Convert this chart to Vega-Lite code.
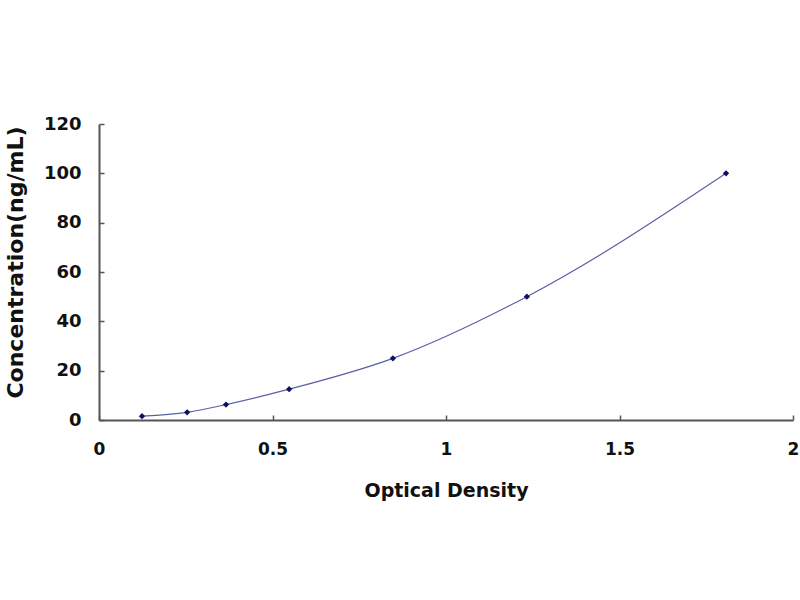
{
  "$schema": "https://vega.github.io/schema/vega-lite/v6.json",
  "autosize": {"type": "none"},
  "padding": {"left": 99, "top": 124, "right": 7, "bottom": 180},
  "width": 694,
  "height": 296,
  "background": "white",
  "data": {
    "values": [
      {"od": 0.124, "conc": 1.56},
      {"od": 0.254, "conc": 3.12},
      {"od": 0.366, "conc": 6.25},
      {"od": 0.548, "conc": 12.5},
      {"od": 0.847, "conc": 25},
      {"od": 1.233, "conc": 50},
      {"od": 1.807, "conc": 100}
    ]
  },
  "encoding": {
    "x": {
      "field": "od",
      "type": "quantitative",
      "title": "Optical Density",
      "scale": {"domain": [0, 2], "nice": false},
      "axis": {
        "values": [0, 0.5, 1, 1.5, 2],
        "format": "~g",
        "labelFlush": false,
        "labelFontSize": 17,
        "labelPadding": 26,
        "titleFontSize": 19,
        "titlePadding": 24
      }
    },
    "y": {
      "field": "conc",
      "type": "quantitative",
      "title": "Concentration(ng/mL)",
      "scale": {"domain": [0, 120], "nice": false},
      "axis": {
        "values": [0, 20, 40, 60, 80, 100, 120],
        "labelFlush": false,
        "labelFontSize": 18,
        "labelPadding": 23,
        "titleFontSize": 22,
        "titlePadding": 16,
        "titleY": 138
      }
    }
  },
  "layer": [
    {
      "mark": {"type": "line", "interpolate": "monotone", "color": "#5a5fa8", "strokeWidth": 1.2}
    },
    {
      "mark": {"type": "point", "shape": "diamond", "filled": true, "color": "#101060", "size": 40, "opacity": 1}
    }
  ],
  "config": {
    "view": {"stroke": null},
    "axis": {
      "grid": false,
      "domainColor": "#555555",
      "domainWidth": 2,
      "tickColor": "#555555",
      "tickSize": -5,
      "tickWidth": 1.5,
      "labelFont": "DejaVu Sans",
      "labelFontWeight": "bold",
      "labelColor": "#111111",
      "titleFont": "DejaVu Sans",
      "titleFontWeight": "bold",
      "titleColor": "#111111"
    }
  }
}
